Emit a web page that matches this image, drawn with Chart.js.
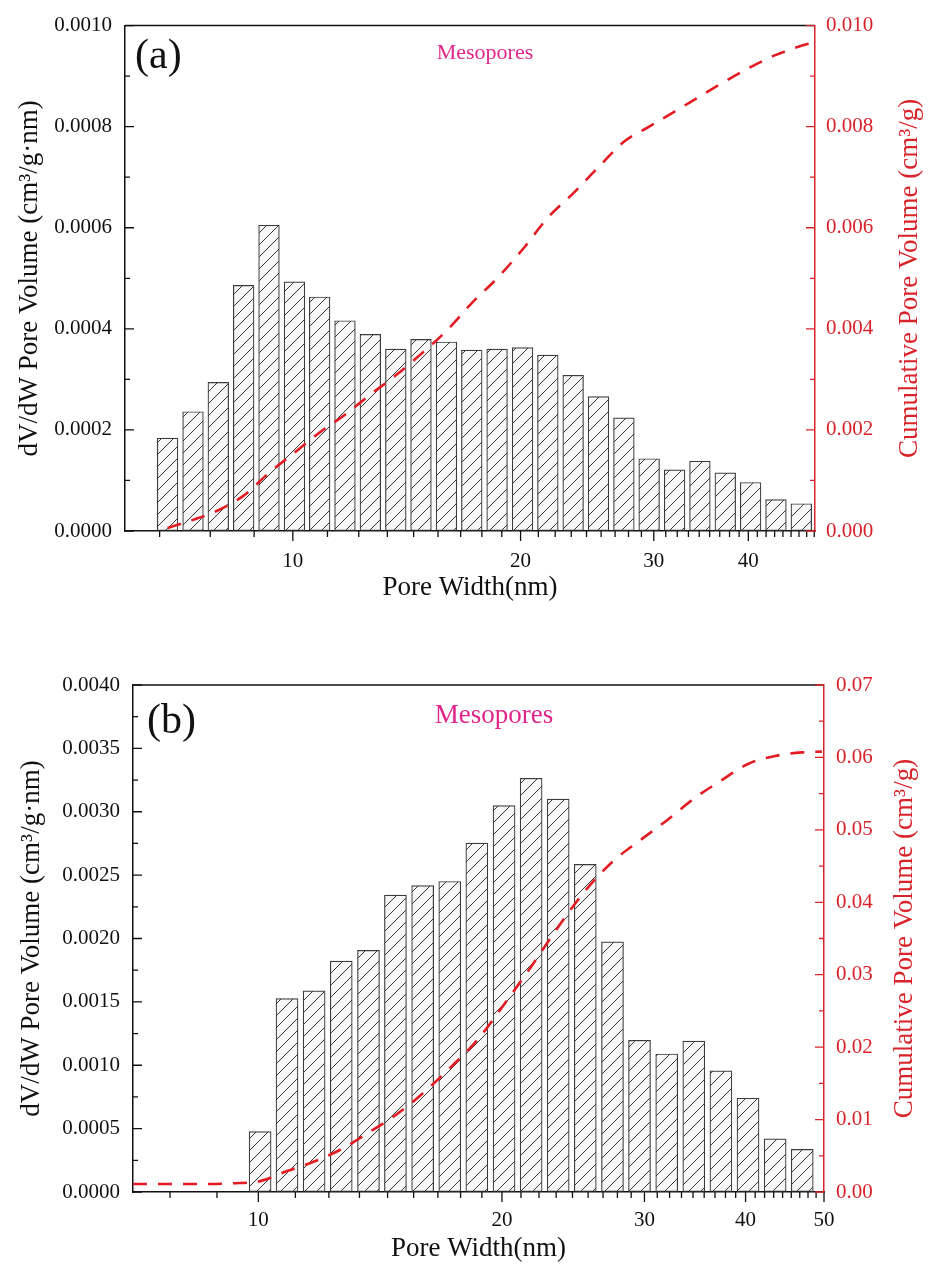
<!DOCTYPE html>
<html>
<head>
<meta charset="utf-8">
<script src="https://cdn.jsdelivr.net/npm/chart.js@4.4.1/dist/chart.umd.min.js"></script>
<style>
  html, body { margin: 0; padding: 0; background: #fff; }
  #wrap { position: relative; width: 930px; height: 1268px; }
  canvas { position: absolute; left: 0; }
  #chartA { top: 0; }
  #chartB { top: 620px; }
</style>
</head>
<body>
<div id="wrap">
  <canvas id="chartA" width="930" height="620"></canvas>
  <canvas id="chartB" width="930" height="648"></canvas>
</div>
<script>
// panel (a): bin centres (nm), dV/dW and cumulative volume
const poreWidthA = [6.83, 7.38, 7.97, 8.61, 9.30, 10.05, 10.85, 11.72, 12.66, 13.68, 14.77, 15.96, 17.24,
  18.62, 20.12, 21.73, 23.47, 25.35, 27.39, 29.58, 31.96, 34.52, 37.29, 40.28, 43.51, 47.00];
const dvdwA = [0.000184, 0.000236, 0.000294, 0.000486, 0.000605, 0.000493, 0.000463, 0.000416, 0.000389,
  0.000360, 0.000379, 0.000374, 0.000358, 0.000360, 0.000363, 0.000348, 0.000308, 0.000266, 0.000224,
  0.000143, 0.000121, 0.000138, 0.000115, 0.000096, 0.000062, 0.000054];
const cumWidthA = [6.83, 7.38, 7.97, 8.61, 9.30, 10.05, 10.85, 11.72, 12.66, 13.68, 14.77, 15.96, 17.24,
  18.62, 20.12, 21.73, 23.47, 25.35, 27.39, 29.58, 31.96, 34.52, 37.29, 40.28, 43.51, 47.00, 48.3];
const cumVolumeA = [0.00006, 0.00022, 0.00041, 0.00070, 0.00115, 0.00155, 0.00195, 0.00230, 0.00270,
  0.00308, 0.00350, 0.00396, 0.00451, 0.00500, 0.00557, 0.00620, 0.00668, 0.00720, 0.00770, 0.00800,
  0.00830, 0.00860, 0.00890, 0.00918, 0.00942, 0.00960, 0.00965];
const xMajorsA = [10, 20, 30, 40];

// panel (b)
const poreWidthB = [10.05, 10.85, 11.72, 12.66, 13.68, 14.77, 15.96, 17.24, 18.62, 20.12, 21.73, 23.47,
  25.35, 27.39, 29.58, 31.96, 34.52, 37.29, 40.28, 43.51, 47.00];
const dvdwB = [0.000477, 0.001526, 0.001587, 0.001822, 0.001906, 0.002343, 0.002417, 0.002450, 0.002753,
  0.003049, 0.003264, 0.003099, 0.002585, 0.001973, 0.001197, 0.001089, 0.001190, 0.000955, 0.000740,
  0.000420, 0.000336];
const cumWidthB = [7.0, 7.38, 7.97, 8.61, 9.30, 10.05, 10.85, 11.72, 12.66, 13.68, 14.77, 15.96, 17.24,
  18.62, 20.12, 21.73, 23.47, 25.35, 27.39, 29.58, 31.96, 34.52, 37.29, 40.28, 43.51, 47.00, 49.7];
const cumVolumeB = [0.0011, 0.0011, 0.0011, 0.0011, 0.0012, 0.0015, 0.0029, 0.0042, 0.0059, 0.0082,
  0.0106, 0.0136, 0.0171, 0.0209, 0.0259, 0.0311, 0.0366, 0.0416, 0.0456, 0.0485, 0.0513, 0.0543,
  0.0568, 0.0591, 0.0602, 0.0607, 0.0608];
const xMajorsB = [10, 20, 30, 40, 50];

const SERIF = "'Liberation Serif', 'Times New Roman', serif";
const INK = "#111";
const RED = "#d9232a";
const LINE_RED = "#e31b23";
const MAGENTA = "#e0258b";

Chart.defaults.font.family = SERIF;
Chart.defaults.font.size = 21;
Chart.defaults.color = INK;

function makeHatch(ctx) {
  const size = 12;
  const tile = document.createElement("canvas");
  tile.width = size;
  tile.height = size;
  const g = tile.getContext("2d");
  g.fillStyle = "#f7f7f7";
  g.fillRect(0, 0, size, size);
  g.strokeStyle = "#3a3a3a";
  g.lineWidth = 1;
  g.beginPath();
  g.moveTo(0, size); g.lineTo(size, 0);
  g.moveTo(-size / 2, size / 2); g.lineTo(size / 2, -size / 2);
  g.moveTo(size / 2, size * 1.5); g.lineTo(size * 1.5, size / 2);
  g.stroke();
  return ctx.createPattern(tile, "repeat");
}

// minor ticks split every ten into nine steps, like the original axis
function logTicks(min, max, majors) {
  const ticks = [];
  for (let decade = 0; decade <= max; decade += 10) {
    for (let k = 0; k < 9; k++) {
      const value = decade + k * 10 / 9;
      if (value >= min - 1e-9 && value <= max + 1e-9) {
        ticks.push({ value, major: k === 0 && majors.includes(decade) });
      }
    }
  }
  return ticks;
}

function linearTicks(max, majorStep, minorStep) {
  const ticks = [];
  const count = Math.round(max / minorStep);
  const every = Math.round(majorStep / minorStep);
  for (let i = 0; i <= count; i++) {
    ticks.push({ value: +(i * minorStep).toFixed(8), major: i % every === 0 });
  }
  return ticks;
}

function drawTickMarks(ctx, scale, majorLen, minorLen, color) {
  ctx.save();
  ctx.strokeStyle = color;
  ctx.lineWidth = 1.3;
  ctx.beginPath();
  scale.ticks.forEach((tick) => {
    const len = tick.major ? majorLen : minorLen;
    const p = scale.getPixelForValue(tick.value);
    if (scale.isHorizontal()) {
      ctx.moveTo(p, scale.top); ctx.lineTo(p, scale.top + len);
    } else if (scale.position === "left") {
      ctx.moveTo(scale.right, p); ctx.lineTo(scale.right + len, p);
    } else {
      ctx.moveTo(scale.left, p); ctx.lineTo(scale.left - len, p);
    }
  });
  ctx.stroke();
  ctx.restore();
}

function makeDecor(panel) {
  return {
    id: "decor",
    afterDraw(chart) {
      const { ctx, chartArea, scales } = chart;
      ctx.save();
      ctx.strokeStyle = INK;
      ctx.lineWidth = 1.5;
      ctx.beginPath();
      ctx.moveTo(chartArea.left, chartArea.top);
      ctx.lineTo(chartArea.right, chartArea.top);
      ctx.stroke();
      drawTickMarks(ctx, scales.x, 10, 6, INK);
      drawTickMarks(ctx, scales.y, 9, 5, INK);
      drawTickMarks(ctx, scales.y1, 9, 5, RED);

      ctx.fillStyle = INK;
      ctx.font = `42px ${SERIF}`;
      ctx.textAlign = "left";
      ctx.textBaseline = "middle";
      ctx.fillText(panel.tag, chartArea.left + panel.tagDx, chartArea.top + panel.tagDy);

      ctx.fillStyle = MAGENTA;
      ctx.font = `${panel.noteSize}px ${SERIF}`;
      ctx.textAlign = "center";
      ctx.fillText("Mesopores", panel.noteX, chartArea.top + panel.noteDy);

      // right title reads bottom-to-top in the original
      ctx.translate(panel.rightTitleX, (chartArea.top + chartArea.bottom) / 2);
      ctx.rotate(-Math.PI / 2);
      ctx.fillStyle = RED;
      ctx.font = `27px ${SERIF}`;
      ctx.fillText("Cumulative Pore Volume (cm\u00b3/g)", 0, 0);
      ctx.restore();
    },
  };
}

function createPanel(canvasId, panel) {
  const canvas = document.getElementById(canvasId);
  const hatch = makeHatch(canvas.getContext("2d"));

  return new Chart(canvas, {
    type: "bar",
    data: {
      datasets: [
        {
          type: "line",
          label: "Cumulative Pore Volume",
          data: panel.cumX.map((x, i) => ({ x, y: panel.cumY[i] })),
          yAxisID: "y1",
          borderColor: LINE_RED,
          borderWidth: 2.6,
          borderDash: [14, 11],
          pointRadius: 0,
          cubicInterpolationMode: "monotone",
          fill: false,
          order: 0,
        },
        {
          label: "dV/dW Pore Volume",
          data: panel.widths.map((x, i) => ({ x, y: panel.values[i] })),
          yAxisID: "y",
          backgroundColor: hatch,
          borderColor: "#3c3c3c",
          borderWidth: 1.2,
          borderSkipped: false,
          barThickness: panel.barThickness,
          order: 1,
        },
      ],
    },
    options: {
      responsive: false,
      animation: false,
      events: [],
      layout: { padding: { top: panel.padTop, left: 0, right: 0, bottom: 0 } },
      plugins: { legend: { display: false }, tooltip: { enabled: false } },
      scales: {
        x: {
          type: "logarithmic",
          position: "bottom",
          min: panel.xMin,
          max: panel.xMax,
          offset: false,
          grid: { offset: false, drawOnChartArea: false, drawTicks: false },
          border: { color: INK, width: 1.5 },
          afterBuildTicks: (scale) => { scale.ticks = logTicks(panel.xMin, panel.xMax, panel.xMajors); },
          afterFit: (scale) => { scale.height = panel.xHeight; },
          ticks: {
            autoSkip: false,
            maxRotation: 0,
            minRotation: 0,
            padding: panel.xTickPad,
            color: INK,
            callback: (value, index, ticks) => (ticks[index].major ? String(value) : ""),
          },
          title: {
            display: true,
            text: "Pore Width(nm)",
            color: INK,
            font: { size: 27 },
            padding: { top: 0, bottom: panel.xTitlePad },
          },
        },
        y: {
          type: "linear",
          position: "left",
          min: 0,
          max: panel.yMax,
          grid: { drawOnChartArea: false, drawTicks: false },
          border: { color: INK, width: 1.5 },
          afterBuildTicks: (scale) => { scale.ticks = linearTicks(panel.yMax, panel.yMajor, panel.yMinor); },
          afterFit: (scale) => { scale.width = panel.yWidth; },
          ticks: {
            autoSkip: false,
            padding: 13,
            color: INK,
            callback: (value, index, ticks) => (ticks[index].major ? value.toFixed(4) : ""),
          },
          title: {
            display: true,
            text: "dV/dW Pore Volume (cm\u00b3/g\u00b7nm)",
            color: INK,
            font: { size: 27 },
            padding: { top: panel.yTitlePad, bottom: 0 },
          },
        },
        y1: {
          type: "linear",
          position: "right",
          min: 0,
          max: panel.y1Max,
          grid: { drawOnChartArea: false, drawTicks: false },
          border: { color: RED, width: 1.5 },
          afterBuildTicks: (scale) => { scale.ticks = linearTicks(panel.y1Max, panel.y1Major, panel.y1Minor); },
          afterFit: (scale) => { scale.width = panel.y1Width; },
          ticks: {
            autoSkip: false,
            padding: panel.y1TickPad,
            color: RED,
            callback: (value, index, ticks) => (ticks[index].major ? value.toFixed(panel.y1Digits) : ""),
          },
          title: { display: false },
        },
      },
    },
    plugins: [makeDecor(panel)],
  });
}

createPanel("chartA", {
  widths: poreWidthA, values: dvdwA, cumX: cumWidthA, cumY: cumVolumeA, xMajors: xMajorsA,
  xMin: 6, xMax: 49,
  yMax: 0.001, yMajor: 0.0002, yMinor: 0.0001,
  y1Max: 0.010, y1Major: 0.002, y1Minor: 0.001, y1Digits: 3,
  padTop: 24, xHeight: 89, yWidth: 125, y1Width: 115,
  xTickPad: 18, xTitlePad: 16, yTitlePad: 14, y1TickPad: 11,
  barThickness: 20.7,
  tag: "(a)", tagDx: 10, tagDy: 31, noteX: 485, noteDy: 28, noteSize: 22, rightTitleX: 910,
});

createPanel("chartB", {
  widths: poreWidthB, values: dvdwB, cumX: cumWidthB, cumY: cumVolumeB, xMajors: xMajorsB,
  xMin: 7, xMax: 50,
  yMax: 0.004, yMajor: 0.0005, yMinor: 0.00025,
  y1Max: 0.07, y1Major: 0.01, y1Minor: 0.005, y1Digits: 2,
  padTop: 65, xHeight: 76, yWidth: 133, y1Width: 106,
  xTickPad: 16, xTitlePad: 3, yTitlePad: 16, y1TickPad: 12,
  barThickness: 22,
  tag: "(b)", tagDx: 14, tagDy: 37, noteX: 494, noteDy: 31, noteSize: 27, rightTitleX: 905,
});
</script>
</body>
</html>
